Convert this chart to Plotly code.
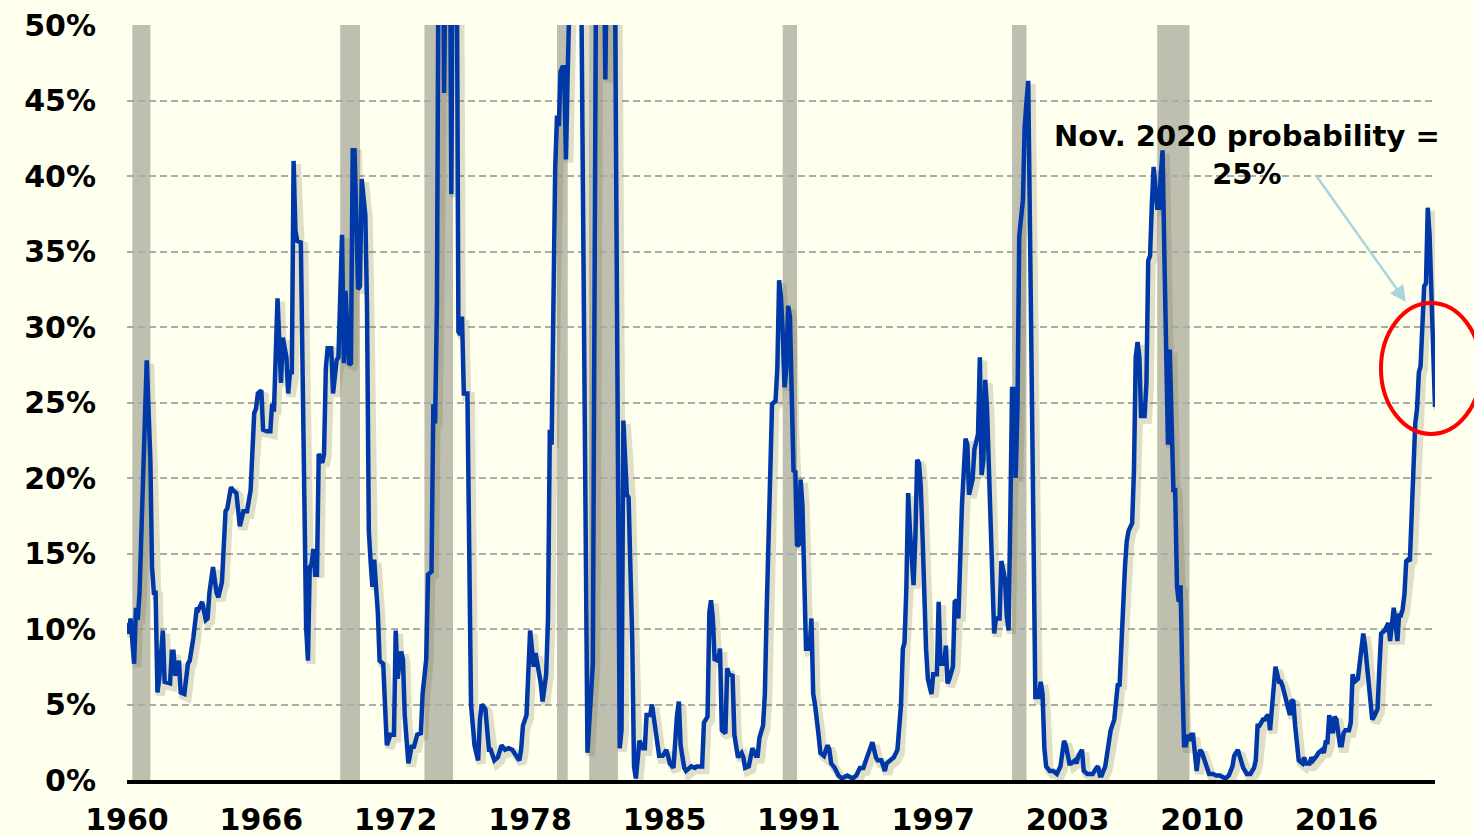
import pandas as pd
import plotly.graph_objects as go

# recession probability (%); months counted from Jan 1960
months_60s = [0, 1, 2, 4, 5, 6, 7, 9, 11, 13, 14, 15, 16, 17, 18, 20, 21, 24, 25, 26,
              27, 29, 30, 32, 34, 35, 37, 39, 40, 42, 44, 45, 46, 48, 50, 51, 52, 53, 55, 56,
              58, 59, 61, 63, 65, 67, 69, 70, 71, 72, 73, 75, 76, 78, 80, 81, 82, 84, 85, 86,
              87, 89, 90, 91, 92, 93, 94, 95, 97, 98, 99, 100, 101, 102, 103, 104, 105, 106, 107, 109,
              110, 111, 112, 114, 115, 117, 118]
prob_60s = [10.4, 9.7, 10.7, 7.7, 11.4, 10.6, 12.4, 19.5, 27.8, 21.2, 14.1, 12.4, 12.4, 5.8, 6.7, 9.9, 6.5, 6.4, 8.5, 8.5,
            6.9, 7.9, 5.8, 5.7, 7.7, 7.9, 9.4, 11.4, 11.3, 11.8, 10.6, 10.7, 12.4, 14.1, 12.4, 12.1, 12.8, 13.1, 17.8, 18.0,
            19.4, 19.2, 19.0, 16.8, 17.8, 17.8, 19.2, 21.2, 24.3, 24.6, 25.6, 25.8, 23.2, 23.1, 23.1, 24.9, 24.4, 31.9, 28.6, 26.3,
            29.3, 28.0, 25.6, 27.0, 27.0, 41.0, 36.4, 35.7, 35.6, 28.0, 17.8, 10.1, 7.9, 14.1, 14.3, 15.3, 13.6, 13.6, 21.6, 21.0,
            21.6, 27.3, 28.6, 28.6, 25.6, 27.8, 28.0]

months_70s = [120, 121, 122, 124, 125, 126, 127, 129, 130, 131, 133, 134, 135, 136, 137, 138, 140, 141, 143, 145,
              147, 149, 150, 151, 153, 154, 155, 157, 159, 160, 162, 164, 165, 167, 168, 170, 171, 172, 173, 174,
              175, 176, 177, 178, 179, 180, 181, 182, 183, 184, 185, 186, 187, 188, 190, 191, 192, 194, 196, 197,
              198, 200, 202, 203, 205, 207, 208, 209, 211, 213, 215, 217, 219, 220, 221, 223, 224, 225, 227, 228,
              229, 231, 232, 234, 235, 236, 237, 238, 239]
prob_70s = [36.1, 27.6, 32.4, 27.5, 27.6, 41.7, 41.7, 32.5, 32.7, 39.8, 37.4, 31.4, 16.5, 14.5, 12.8, 14.6, 11.1, 7.9, 7.7, 2.3,
            3.0, 3.0, 9.9, 6.7, 8.5, 8.0, 4.3, 1.1, 2.3, 2.1, 3.0, 3.1, 5.7, 8.0, 13.6, 13.8, 24.9, 23.6, 31.4, 58,
            62, 64, 45.5, 66, 70, 62, 38.8, 60, 64, 58, 29.7, 29.5, 30.7, 25.6, 25.6, 14.5, 5.0, 2.3, 1.3, 4.0,
            5.0, 4.7, 2.0, 2.0, 1.3, 1.5, 1.8, 2.3, 2.0, 2.1, 2.0, 1.6, 1.3, 2.0, 3.6, 4.3, 7.4, 9.9, 7.5, 8.4,
            7.7, 6.4, 5.2, 7.0, 10.7, 23.2, 22.2, 32.0, 40.5]

months_80s = [240, 241, 242, 243, 244, 245, 246, 247, 249, 251, 253, 257, 260, 262, 264, 266, 267, 268, 270, 272,
              275, 276, 277, 279, 280, 282, 283, 284, 285, 286, 288, 289, 290, 292, 293, 295, 297, 299, 301, 303,
              305, 307, 308, 309, 311, 312, 315, 317, 318, 321, 322, 324, 325, 326, 327, 328, 330, 331, 332, 334,
              335, 336, 338, 339, 341, 343, 344, 345, 347, 349, 351, 352, 353, 355, 356, 357, 358]
prob_80s = [44.0, 43.3, 46.9, 47.2, 47.2, 41.1, 46.9, 55, 66, 72, 60, 1.8, 7.7, 60, 78, 58, 46.4, 56, 82, 60,
            2.1, 3.3, 23.8, 18.9, 18.7, 9.4, 0.9, 0.1, 1.3, 2.6, 2.1, 2.1, 4.3, 4.3, 5.0, 3.0, 1.6, 1.6, 2.0, 1.1,
            0.8, 4.3, 5.2, 2.3, 0.8, 0.6, 0.9, 0.8, 0.9, 0.9, 3.8, 4.2, 11.1, 11.9, 10.7, 8.0, 7.9, 8.7, 3.3, 3.1,
            7.4, 7.0, 6.9, 3.0, 1.5, 1.8, 1.5, 0.8, 0.9, 2.1, 1.6, 1.6, 2.8, 3.6, 5.7, 11.1, 16.5]

months_90s = [359, 360, 362, 363, 364, 365, 366, 367, 368, 369, 370, 371, 372, 373, 374, 375, 376, 377, 378, 379,
              381, 382, 383, 384, 386, 387, 389, 391, 392, 393, 395, 397, 399, 402, 405, 407, 409, 411, 413, 415,
              416, 418, 419, 421, 422, 423, 424, 426, 428, 430, 431, 432, 433, 434, 435, 436, 437, 438, 439, 440,
              441, 442, 443, 444, 445, 446, 447, 449, 450, 452, 453, 454, 456, 457, 458, 459, 461, 462, 463, 464,
              466, 467, 468, 469, 470, 472, 473, 474, 475, 476, 477, 478]
prob_90s = [21.2, 24.9, 25.1, 27.3, 33.1, 32.0, 29.7, 26.0, 27.3, 31.4, 30.7, 23.6, 20.4, 20.5, 15.5, 15.6, 19.9, 18.2, 12.1, 8.7,
            8.7, 10.7, 5.7, 5.0, 3.0, 1.8, 1.6, 2.3, 2.0, 1.1, 0.8, 0.3, 0.1, 0.3, 0.1, 0.3, 0.8, 0.8, 1.5, 2.3,
            2.5, 1.5, 1.3, 1.3, 0.9, 0.6, 1.1, 1.3, 1.5, 2.0, 4.0, 5.0, 8.7, 9.1, 12.8, 19.0, 16.5, 14.8, 12.9, 16.1,
            21.2, 21.0, 19.5, 16.1, 11.8, 8.7, 6.7, 5.7, 7.0, 7.0, 11.8, 7.7, 7.7, 8.9, 6.4, 6.7, 7.5, 11.8, 11.9, 10.7,
            18.2, 20.0, 22.6, 22.2, 18.9, 19.9, 21.9, 22.4, 22.9, 28.0, 20.2, 21.2]

months_00s = [479, 480, 481, 482, 483, 484, 485, 487, 488, 490, 491, 492, 493, 494, 495, 496, 497, 498, 500, 501,
              502, 503, 504, 505, 506, 507, 509, 510, 511, 512, 513, 515, 517, 519, 521, 522, 523, 524, 526, 527,
              529, 530, 531, 533, 534, 536, 537, 539, 541, 542, 543, 544, 546, 547, 548, 549, 551, 552, 553, 554,
              555, 556, 557, 558, 559, 561, 562, 563, 564, 565, 566, 568, 569, 570, 571, 572, 573, 575, 576, 577,
              578, 579, 580, 581, 582, 583, 584, 585, 586, 587, 588, 589, 590, 591, 592, 593, 594, 595, 596, 597,
              598]
prob_00s = [26.5, 24.6, 20.2, 16.8, 13.4, 9.7, 10.7, 10.7, 14.5, 13.3, 10.9, 9.9, 17.8, 25.9, 25.9, 20.0, 24.6, 36.0, 38.4, 43.2,
            44.9, 46.3, 36.0, 26.0, 14.5, 5.5, 5.5, 6.5, 5.7, 2.1, 0.9, 0.6, 0.6, 0.4, 0.9, 1.6, 2.6, 2.3, 1.1, 1.1,
            1.3, 1.1, 1.6, 2.0, 0.6, 0.4, 0.4, 0.4, 0.8, 0.9, 0.3, 0.3, 0.9, 1.6, 2.3, 3.3, 4.0, 5.0, 6.4, 6.2,
            9.4, 12.4, 14.1, 15.8, 16.5, 17.0, 20.5, 28.0, 29.0, 28.0, 24.1, 24.1, 26.3, 34.4, 34.7, 38.1, 40.6, 37.9, 37.9, 40.1,
            41.7, 34.7, 28.0, 22.2, 28.5, 21.9, 19.2, 19.2, 12.8, 11.8, 12.9, 6.4, 2.3, 2.3, 3.0, 2.6, 3.0, 3.0, 1.6, 0.6,
            1.6]

months_10s = [599, 600, 602, 604, 606, 608, 610, 613, 615, 617, 618, 620, 621, 623, 625, 627, 629, 630, 631, 632,
              634, 635, 636, 637, 638, 639, 640, 641, 643, 644, 645, 646, 648, 649, 650, 651, 652, 653, 654, 656,
              657, 658, 660, 661, 662, 664, 665, 667, 668, 669, 670, 671, 673, 674, 675, 677, 678, 679, 680, 682,
              683, 684, 685, 687, 688, 690, 691, 692, 694, 695, 696, 698, 699, 700, 702, 703, 704, 705, 706, 707,
              708, 709, 710, 711, 712, 713, 714, 715, 716, 717, 718, 719, 720, 721, 722, 723, 724, 725, 726, 727,
              728, 729, 730]
prob_10s = [2.0, 1.8, 1.1, 0.4, 0.4, 0.3, 0.3, 0.1, 0.3, 0.9, 1.6, 2.0, 1.6, 0.8, 0.4, 0.4, 0.8, 1.3, 3.6, 3.6,
            4.0, 4.0, 4.2, 4.3, 3.3, 4.8, 6.0, 7.5, 6.5, 6.5, 6.2, 5.7, 4.5, 4.3, 5.3, 5.2, 3.6, 2.0, 1.3, 1.1,
            1.5, 1.1, 1.1, 1.5, 1.3, 1.6, 1.8, 2.0, 1.8, 2.5, 2.5, 4.3, 3.1, 4.2, 4.0, 2.3, 2.3, 3.1, 3.3, 3.3,
            3.8, 7.0, 6.5, 6.7, 7.7, 9.7, 8.9, 7.7, 5.7, 4.0, 4.2, 4.7, 7.4, 9.7, 9.9, 10.2, 10.4, 9.2, 10.2, 11.4,
            10.4, 9.2, 10.9, 10.9, 11.3, 12.3, 14.5, 14.6, 14.5, 17.2, 20.0, 23.6, 24.6, 27.0, 27.4, 30.7, 32.7, 32.9, 37.9, 36.1,
            32.0, 28.0, 24.7]

recessions = [("1960-04-01", "1961-02-01"), ("1969-12-01", "1970-11-01"), ("1973-11-01", "1975-03-01"),
              ("1980-01-01", "1980-07-01"), ("1981-07-01", "1982-11-01"), ("1990-07-01", "1991-03-01"),
              ("2001-03-01", "2001-11-01"), ("2007-12-01", "2009-06-01")]

tick_dates = ["1960-01-01", "1966-04-01", "1972-07-01", "1978-10-01", "1985-01-01",
              "1991-04-01", "1997-07-01", "2003-10-01", "2010-01-01", "2016-04-01"]
tick_labels = ["1960", "1966", "1972", "1978", "1985", "1991", "1997", "2003", "2010", "2016"]
pct_ticks = [0, 5, 10, 15, 20, 25, 30, 35, 40, 45, 50]
pct_labels = ["0%", "5%", "10%", "15%", "20%", "25%", "30%", "35%", "40%", "45%", "50%"]

months = months_60s + months_70s + months_80s + months_90s + months_00s + months_10s
prob = prob_60s + prob_70s + prob_80s + prob_90s + prob_00s + prob_10s
assert len(months) == len(prob)
assert all(b > a for a, b in zip(months, months[1:]))
dates = pd.to_datetime([f"{1960 + m // 12}-{m % 12 + 1:02d}-01" for m in months])

x_range = [pd.Timestamp("1960-01-01"), pd.Timestamp("2020-11-01")]
y_range = [0, 50]
# drop shadow: same line drawn on hidden axes nudged a few pixels right/down
shift_x = pd.Timedelta(days=50)
shift_y = 0.22

font = dict(family="DejaVu Sans", size=30, color="black", weight="bold")

fig = go.Figure()
fig.add_trace(go.Scatter(x=dates, y=prob, mode="lines", xaxis="x2", yaxis="y2",
                         line=dict(color="rgba(110,110,70,0.22)", width=9), hoverinfo="skip"))
fig.add_trace(go.Scatter(x=dates, y=prob, mode="lines", xaxis="x3", yaxis="y3",
                         line=dict(color="#0038A8", width=4.5), name="probability"))

for start, end in recessions:
    fig.add_shape(type="rect", xref="x", yref="paper", x0=start, x1=end, y0=0, y1=1,
                  fillcolor="#BFBFAF", line_width=0, layer="below")

fig.add_shape(type="circle", xref="paper", yref="paper", x0=0.9587, x1=1.0352, y0=0.4583, y1=0.6318,
              line=dict(color="#FF0000", width=4))

fig.add_annotation(text="Nov. 2020 probability =<br>25%", xref="paper", yref="paper", x=0.856, y=0.828,
                   xanchor="center", yanchor="middle", showarrow=False,
                   font=dict(family="DejaVu Sans", size=29, color="black", weight="bold"))
fig.add_annotation(text="", xref="paper", yref="paper", x=0.9778, y=0.6331, ax=-91, ay=-128,
                   showarrow=True, arrowhead=2, arrowsize=1.3, arrowwidth=2.5, arrowcolor="#A9D5DF")

fig.update_layout(
    width=1474, height=836,
    margin=dict(l=127, r=39, t=25, b=56, pad=0),
    paper_bgcolor="#FFFFEE", plot_bgcolor="#FFFFEE",
    showlegend=False,
    xaxis=dict(type="date", range=x_range, tickmode="array", tickvals=tick_dates, ticktext=tick_labels,
               showgrid=False, showline=True, linecolor="black", linewidth=4, ticks="",
               tickfont=font, ticklabelstandoff=10, zeroline=False, automargin=False),
    yaxis=dict(range=y_range, tickmode="array", tickvals=pct_ticks, ticktext=pct_labels,
               showgrid=True, gridcolor="#ABABAB", gridwidth=1.5, griddash="7px,4px",
               zeroline=False, showline=False, ticks="", tickfont=font, ticklabelstandoff=30,
               automargin=False),
    xaxis2=dict(type="date", overlaying="x", range=[x_range[0] - shift_x, x_range[1] - shift_x],
                visible=False, automargin=False),
    yaxis2=dict(overlaying="y", range=[y_range[0] + shift_y, y_range[1] + shift_y], visible=False,
                automargin=False),
    xaxis3=dict(type="date", overlaying="x", matches="x", visible=False, automargin=False),
    yaxis3=dict(overlaying="y", matches="y", visible=False, automargin=False),
)

fig.write_html("out.html", config={"displayModeBar": False},
               post_script="document.body.style.margin='0';document.body.style.overflow='hidden';")
